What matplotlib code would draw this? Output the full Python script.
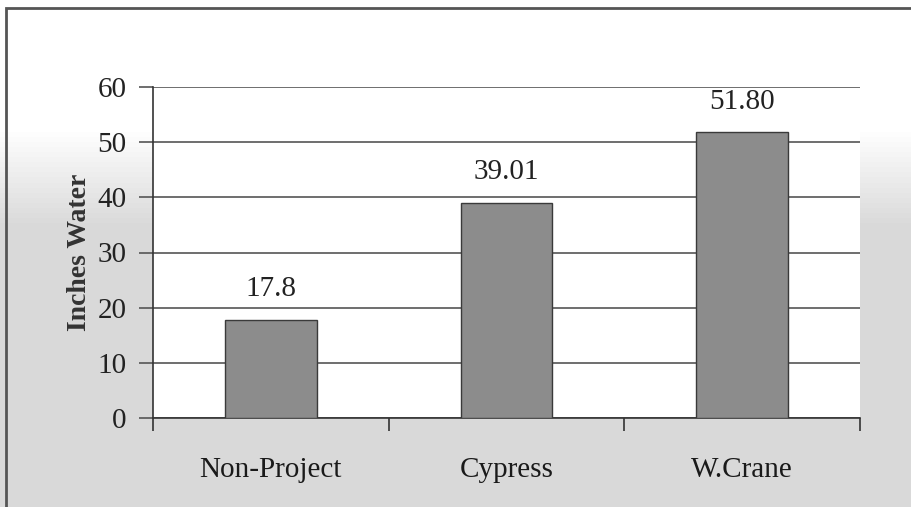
import matplotlib.pyplot as plt
import matplotlib.patches as mpatches
import numpy as np

# Data
sites = ['Non-Project', 'Cypress', 'W.Crane']
inches_water = [17.8, 39.01, 51.80]
value_labels = ['17.8', '39.01', '51.80']
yticks = [0, 10, 20, 30, 40, 50, 60]

plt.rcParams['font.family'] = ['Liberation Serif', 'DejaVu Serif']

fig = plt.figure(figsize=(9.12, 5.07), dpi=100)
fig.patch.set_facecolor('white')

# scanned-page look: white on top fading to light grey
bg = fig.add_axes([0, 0, 1, 1], zorder=-10)
grad = np.concatenate([np.ones(25), np.linspace(1.0, 0.85, 20), np.full(55, 0.85)])[:, None]
bg.imshow(grad, cmap='gray', vmin=0, vmax=1, aspect='auto', extent=[0, 1, 0, 1])
bg.set_axis_off()

# outer frame of the chart
fig.patches.append(mpatches.Rectangle((6 / 912, -0.1), 1.2, 1 - 8 / 507 + 0.1,
                                      transform=fig.transFigure, fill=False,
                                      edgecolor='#555555', linewidth=2))

ax = fig.add_axes([153 / 912, 1 - 418 / 507, 707 / 912, 331 / 507])
ax.set_facecolor('white')

x = np.arange(len(sites))
bars = ax.bar(x, inches_water, width=0.39, color='#8c8c8c', edgecolor='#3a3a3a',
              linewidth=1, zorder=3)

for b, lab in zip(bars, value_labels):
    ax.text(b.get_x() + b.get_width() / 2, b.get_height() + 4.3, lab,
            ha='center', va='baseline', fontsize=21, color='#222222')

ax.set_xlim(-0.5, len(sites) - 0.5)
ax.set_ylim(0, 60)
ax.set_yticks(yticks)
ax.yaxis.grid(True, color='#555555', linewidth=1.2)
ax.set_axisbelow(True)

ax.set_xticks(x)
ax.set_xticklabels(sites, fontsize=21, color='#1a1a1a')
ax.tick_params(axis='x', length=0, pad=28)
# boundary ticks between categories
ax.set_xticks(np.arange(-0.5, len(sites)), minor=True)
ax.tick_params(axis='x', which='minor', length=9, width=1.2, color='#333333', direction='out')

ax.tick_params(axis='y', labelsize=21, length=10, width=1.2, color='#555555',
               direction='out', labelcolor='#222222', pad=9)

for s in ['top', 'right']:
    ax.spines[s].set_visible(False)
ax.spines['left'].set_color('#333333')
ax.spines['left'].set_linewidth(1.2)
ax.spines['bottom'].set_color('#333333')
ax.spines['bottom'].set_linewidth(1.2)

ax.set_ylabel('Inches Water', fontsize=20, fontweight='bold', color='#333333')
ax.yaxis.set_label_coords(-0.086, 0.5)

fig.savefig('out.png', dpi=100)
